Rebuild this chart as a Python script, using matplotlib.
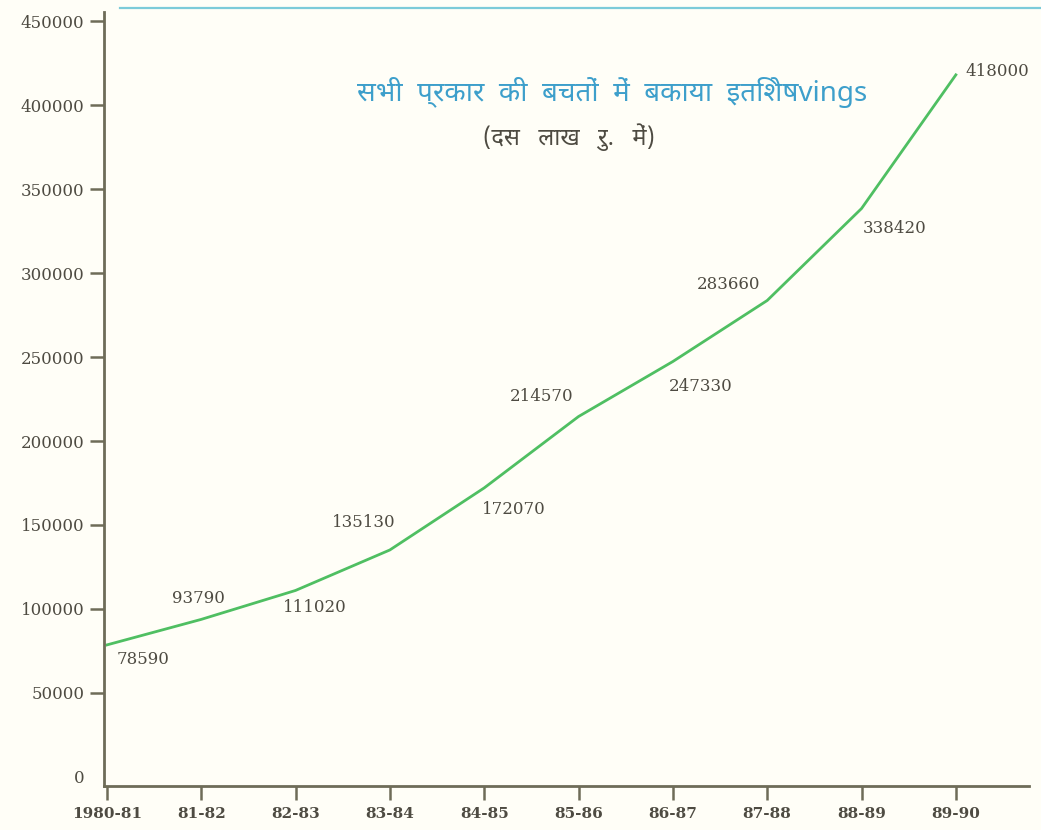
import matplotlib
matplotlib.use("Agg")
import matplotlib.pyplot as plt
from matplotlib.lines import Line2D

# Outstanding balance in all savings (Rs. million)
years = ["1980-81", "81-82", "82-83", "83-84", "84-85",
         "85-86", "86-87", "87-88", "88-89", "89-90"]
savings = [78590, 93790, 111020, 135130, 172070,
           214570, 247330, 283660, 338420, 418000]
y_ticks = [0, 50000, 100000, 150000, 200000, 250000,
           300000, 350000, 400000, 450000]

title_line1 = "सभी  प्रकार  की  बचतों  में  बकाया  इतिशेषvings"
title_line2 = "(दस   लाख   रु.   में)"

# label offsets in pixels (dx, dy) relative to each point
label_offsets = [(36, -15), (-3, 21), (19, -17), (-26, 27), (30, -22),
                 (-37, 20), (28, -25), (-39, 16), (33, -20), (41, 3)]

bg = "#fffef7"
axis_col = "#6e6c58"
text_col = "#4e4b42"
line_col = "#4fbf62"
title_col = "#3d9fcb"

fig = plt.figure(figsize=(10.41, 8.30), dpi=100, facecolor=bg)
ax = fig.add_axes([0.0999, 0.053, 0.889, 0.9325])
ax.set_facecolor(bg)

x = list(range(len(years)))
ax.plot(x, savings, color=line_col, lw=2.0, solid_joinstyle="round")

for xi, v, (dx, dy) in zip(x, savings, label_offsets):
    ax.annotate(f"{v}", (xi, v), xytext=(dx, dy), textcoords="offset pixels",
                ha="center", va="center", fontsize=12,
                family="DejaVu Serif", color=text_col)

ax.set_xlim(-0.03, 9.78)
ax.set_ylim(-5400, 455400)

ax.set_xticks(x)
ax.set_xticklabels(years)
ax.set_yticks(y_ticks)
ax.set_yticklabels([str(t) for t in y_ticks])
ax.yaxis.get_major_ticks()[0].tick1line.set_visible(False)

for lab in ax.get_yticklabels():
    lab.set_family("DejaVu Serif")
    lab.set_fontsize(12)
    lab.set_color(text_col)
for lab in ax.get_xticklabels():
    lab.set_family("DejaVu Serif")
    lab.set_fontsize(11)
    lab.set_fontweight("bold")
    lab.set_color(text_col)

ax.tick_params(axis="both", direction="out", length=10, width=1.8,
               color=axis_col, pad=4)
ax.tick_params(axis="x", pad=5)

for side in ("top", "right"):
    ax.spines[side].set_visible(False)
for side in ("left", "bottom"):
    ax.spines[side].set_color(axis_col)
    ax.spines[side].set_linewidth(2.0)

fam = ["Noto Sans Devanagari", "Lohit Devanagari", "FreeSans",
       "Noto Sans", "DejaVu Sans"]
fig.text(0.588, 0.889, title_line1, ha="center", va="center",
         fontsize=20, color=title_col, family=fam, fontweight="bold")
fig.text(0.547, 0.835, title_line2, ha="center", va="center",
         fontsize=17, color=text_col, family=fam)

# thin rule across the top
fig.add_artist(Line2D([0.115, 1.0], [0.990, 0.990], color="#7ccbd9",
                      lw=1.6, transform=fig.transFigure))

fig.savefig("out.png", dpi=100, facecolor=bg)
